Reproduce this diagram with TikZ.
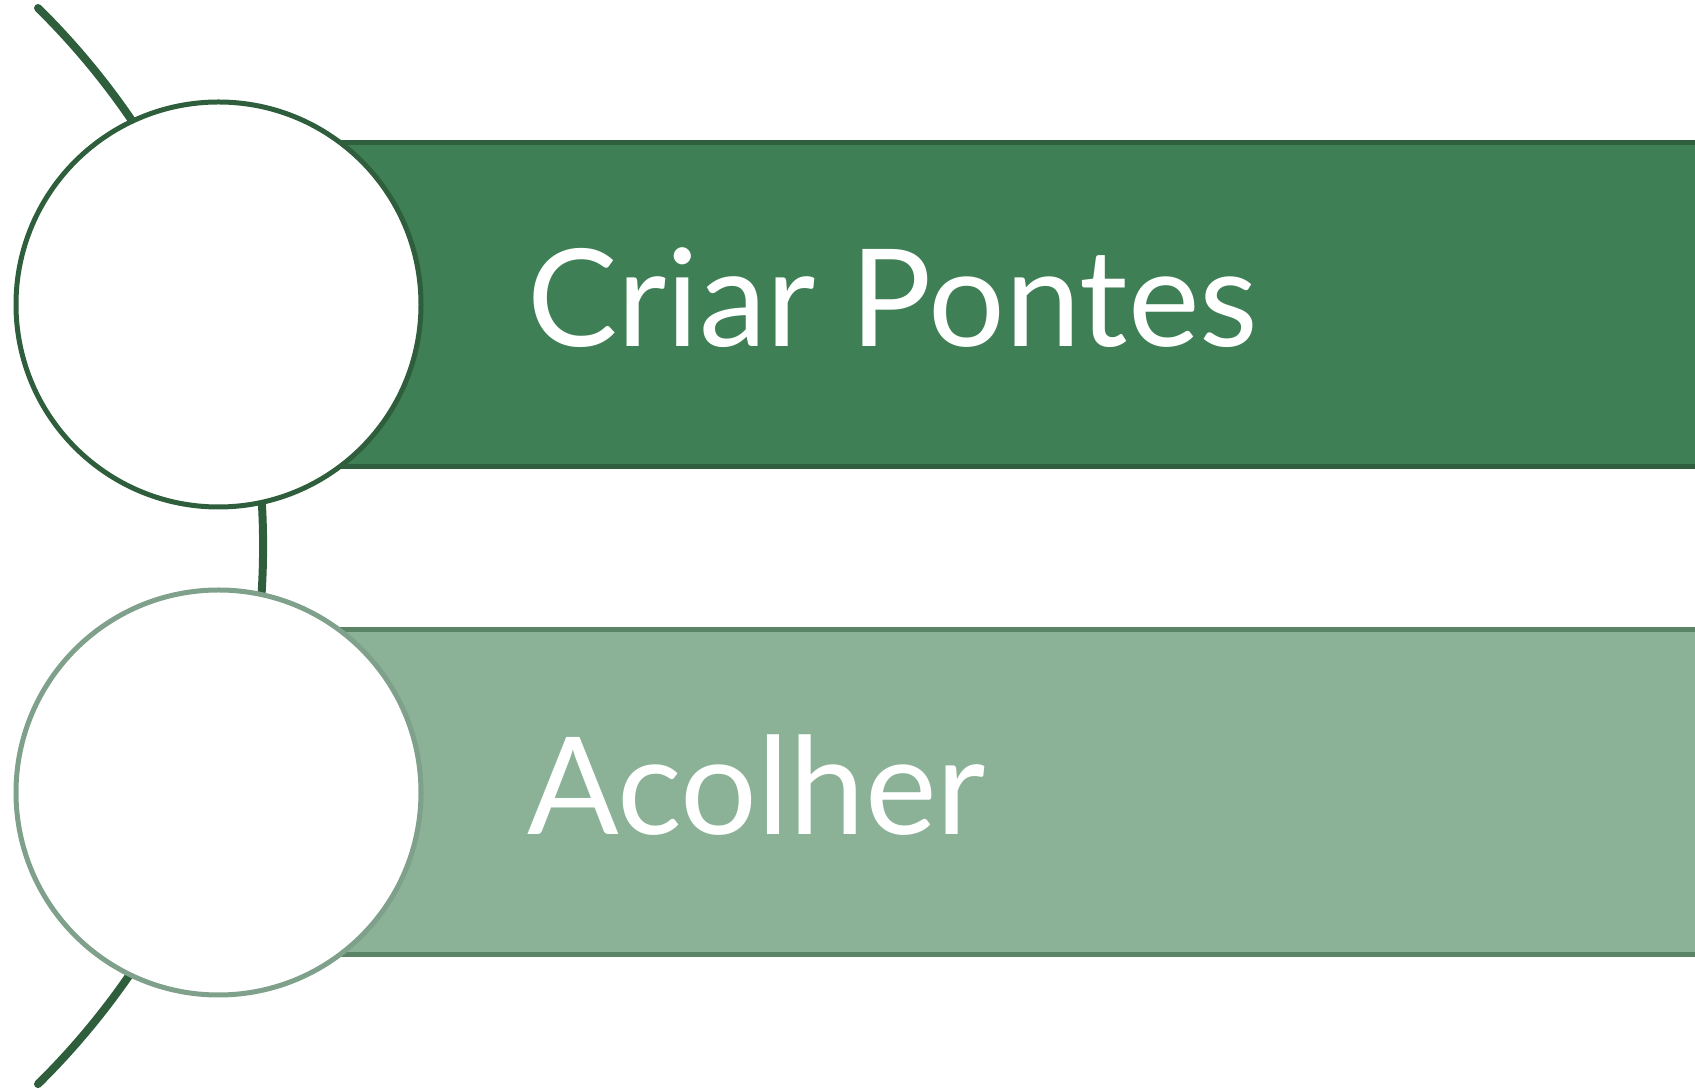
\documentclass[tikz,border=0pt]{standalone}
\usepackage{fontspec}
\setmainfont{Lato}
\definecolor{darkg}{HTML}{2E5E3C}
\definecolor{fillA}{HTML}{3F7F55}
\definecolor{borderA}{HTML}{2F5F3E}
\definecolor{fillB}{HTML}{8BB296}
\definecolor{borderB}{HTML}{5A8465}
\definecolor{circB}{HTML}{7FA08A}
\begin{document}
\begin{tikzpicture}[x=1pt,y=1pt,
  band/.style={line width=5pt},
  disc/.style={circle,fill=white,line width=5pt,minimum size=405pt,inner sep=0pt},
  label/.style={anchor=base west,inner sep=0pt,text=white,font=\fontsize{135.5}{160}\selectfont},
  link/.style={draw=darkg,line width=8pt,line cap=round}]
\useasboundingbox (0,0) rectangle (1695,1089);
% connector
\coordinate (ctop) at (38,1081);
\draw[link] (ctop) arc[start angle=45.4,end angle=-45.4,radius=755.7] coordinate (cbot);
% bands
\draw[band,fill=fillA,draw=borderA] (218.5,946.5) rectangle (1720,622.5);
\draw[band,fill=fillB,draw=borderB] (218.5,459.5) rectangle (1720,134.5);
% circles
\node[disc,draw=darkg] (c1) at (218.5,784.5) {};
\node[disc,draw=circB] (c2) at (218.5,296.5) {};
% texts
\node[label] (t1) at (527,742) {Criar Pontes};
\node[label] (t2) at (527,254.5) {Acolher};
\end{tikzpicture}
\end{document}
